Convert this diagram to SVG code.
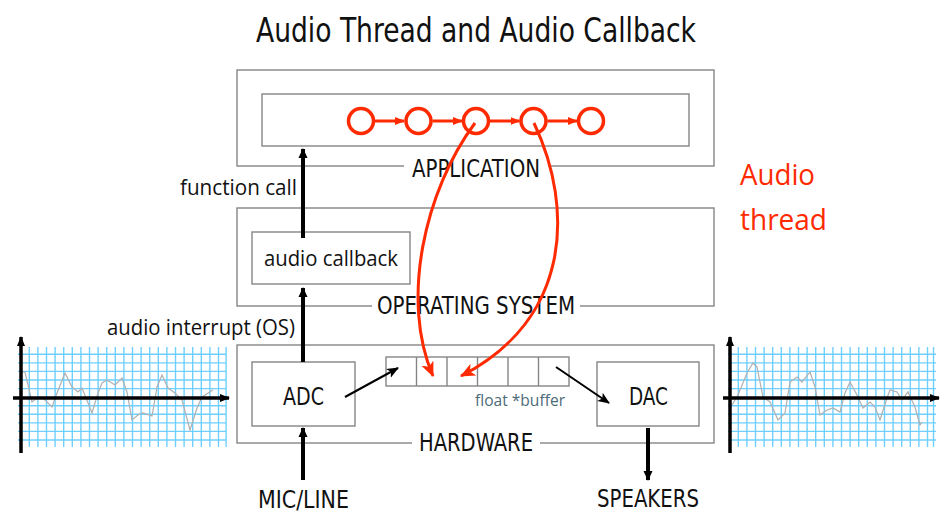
<svg xmlns="http://www.w3.org/2000/svg" width="946" height="516" viewBox="0 0 946 516">
<style>
.box{fill:none;stroke:#858585;stroke-width:1.4}
.lbl{font-family:"DejaVu Sans Condensed","DejaVu Sans",sans-serif;fill:#111;text-anchor:middle}
.txt{font-family:"Open Sans","Liberation Sans",sans-serif;fill:#111}
.grid line{stroke:#6fd0ff;stroke-width:1.4}
.axis{stroke:#000;stroke-width:3.5}
.wave{fill:none;stroke:#b0b0b0;stroke-width:1.2}
.thick{stroke:#000;stroke-width:4;fill:none}
.thin{stroke:#000;stroke-width:2;fill:none}
.red{stroke:#ff2a00;fill:none}
</style>
<defs>
<marker id="ah" markerUnits="userSpaceOnUse" markerWidth="10" markerHeight="10" refX="9" refY="5" orient="auto"><path d="M0,0.5 L10,5 L0,9.5 z" fill="#000"/></marker>
<marker id="ahs" markerUnits="userSpaceOnUse" markerWidth="12" markerHeight="12" refX="11" refY="6" orient="auto"><path d="M0,1 L12,6 L0,11 L3,6 z" fill="#000"/></marker>
<marker id="axh" markerUnits="userSpaceOnUse" markerWidth="10" markerHeight="10" refX="9" refY="5" orient="auto"><path d="M0,1 L10,5 L0,9 z" fill="#000"/></marker>
<marker id="rh" markerUnits="userSpaceOnUse" markerWidth="10" markerHeight="10" refX="9" refY="5" orient="auto"><path d="M0,1 L10,5 L0,9 z" fill="#ff2a00"/></marker>
<marker id="rhb" markerUnits="userSpaceOnUse" markerWidth="16" markerHeight="14" refX="14" refY="7" orient="auto"><path d="M0,0.5 L15,7 L0,13.5 L4,7 z" fill="#ff2a00"/></marker>
</defs>
<rect width="946" height="516" fill="#fff"/>

<text x="476" y="42" class="lbl" font-size="33" font-weight="300" textLength="440" lengthAdjust="spacingAndGlyphs">Audio Thread and Audio Callback</text>

<!-- left chart -->
<g id="chart-left">
<g class="grid">
<line x1="29.3" y1="347" x2="29.3" y2="447"/><line x1="37.9" y1="347" x2="37.9" y2="447"/><line x1="46.5" y1="347" x2="46.5" y2="447"/><line x1="55.1" y1="347" x2="55.1" y2="447"/><line x1="63.7" y1="347" x2="63.7" y2="447"/><line x1="72.3" y1="347" x2="72.3" y2="447"/><line x1="80.9" y1="347" x2="80.9" y2="447"/><line x1="89.5" y1="347" x2="89.5" y2="447"/><line x1="98.1" y1="347" x2="98.1" y2="447"/><line x1="106.7" y1="347" x2="106.7" y2="447"/><line x1="115.3" y1="347" x2="115.3" y2="447"/><line x1="123.9" y1="347" x2="123.9" y2="447"/><line x1="132.5" y1="347" x2="132.5" y2="447"/><line x1="141.1" y1="347" x2="141.1" y2="447"/><line x1="149.7" y1="347" x2="149.7" y2="447"/><line x1="158.3" y1="347" x2="158.3" y2="447"/><line x1="166.9" y1="347" x2="166.9" y2="447"/><line x1="175.5" y1="347" x2="175.5" y2="447"/><line x1="184.1" y1="347" x2="184.1" y2="447"/><line x1="192.7" y1="347" x2="192.7" y2="447"/><line x1="201.3" y1="347" x2="201.3" y2="447"/><line x1="209.9" y1="347" x2="209.9" y2="447"/><line x1="218.5" y1="347" x2="218.5" y2="447"/><line x1="226.1" y1="347" x2="226.1" y2="447"/>
<line x1="18" y1="354.3" x2="226" y2="354.3"/><line x1="18" y1="362.9" x2="226" y2="362.9"/><line x1="18" y1="371.4" x2="226" y2="371.4"/><line x1="18" y1="380" x2="226" y2="380"/><line x1="18" y1="388.6" x2="226" y2="388.6"/><line x1="18" y1="405.7" x2="226" y2="405.7"/><line x1="18" y1="414.3" x2="226" y2="414.3"/><line x1="18" y1="422.9" x2="226" y2="422.9"/><line x1="18" y1="431.4" x2="226" y2="431.4"/><line x1="18" y1="440" x2="226" y2="440"/>
</g>
<polyline class="wave" points="21,372 25,372 32,402 37,398 43,398 52,407 57,393 65,373 72,387 78,392 82,388 92,413 98,393 102,383 107,380 115,385 122,378 127,392 132,420 138,415 143,413 152,416 157,387 162,375 168,388 175,393 182,400 190,430 197,408 202,397 213,390"/>
<line class="axis" x1="21" y1="453" x2="21" y2="337" marker-end="url(#axh)"/>
<line class="axis" x1="13" y1="398" x2="229" y2="398" marker-end="url(#axh)"/>
</g>

<!-- right chart -->
<g id="chart-right">
<g class="grid">
<line x1="738.3" y1="347" x2="738.3" y2="447"/><line x1="746.9" y1="347" x2="746.9" y2="447"/><line x1="755.5" y1="347" x2="755.5" y2="447"/><line x1="764.1" y1="347" x2="764.1" y2="447"/><line x1="772.7" y1="347" x2="772.7" y2="447"/><line x1="781.3" y1="347" x2="781.3" y2="447"/><line x1="789.9" y1="347" x2="789.9" y2="447"/><line x1="798.5" y1="347" x2="798.5" y2="447"/><line x1="807.1" y1="347" x2="807.1" y2="447"/><line x1="815.7" y1="347" x2="815.7" y2="447"/><line x1="824.3" y1="347" x2="824.3" y2="447"/><line x1="832.9" y1="347" x2="832.9" y2="447"/><line x1="841.5" y1="347" x2="841.5" y2="447"/><line x1="850.1" y1="347" x2="850.1" y2="447"/><line x1="858.7" y1="347" x2="858.7" y2="447"/><line x1="867.3" y1="347" x2="867.3" y2="447"/><line x1="875.9" y1="347" x2="875.9" y2="447"/><line x1="884.5" y1="347" x2="884.5" y2="447"/><line x1="893.1" y1="347" x2="893.1" y2="447"/><line x1="901.7" y1="347" x2="901.7" y2="447"/><line x1="910.3" y1="347" x2="910.3" y2="447"/><line x1="918.9" y1="347" x2="918.9" y2="447"/><line x1="927.5" y1="347" x2="927.5" y2="447"/><line x1="933.5" y1="347" x2="933.5" y2="447"/>
<line x1="728" y1="354.3" x2="936" y2="354.3"/><line x1="728" y1="362.9" x2="936" y2="362.9"/><line x1="728" y1="371.4" x2="936" y2="371.4"/><line x1="728" y1="380" x2="936" y2="380"/><line x1="728" y1="388.6" x2="936" y2="388.6"/><line x1="728" y1="405.7" x2="936" y2="405.7"/><line x1="728" y1="414.3" x2="936" y2="414.3"/><line x1="728" y1="422.9" x2="936" y2="422.9"/><line x1="728" y1="431.4" x2="936" y2="431.4"/><line x1="728" y1="440" x2="936" y2="440"/>
</g>
<polyline class="wave" points="732,405 738,395 747,373 753,363 757,367 763,397 770,402 778,420 785,413 790,382 797,377 802,382 810,372 815,387 820,415 827,410 833,408 840,412 845,393 850,382 857,395 863,408 870,402 875,407 880,420 887,398 890,390 897,392 902,400 908,392 915,407 920,425 922,422"/>
<line class="axis" x1="730" y1="453" x2="730" y2="337" marker-end="url(#axh)"/>
<line class="axis" x1="723" y1="398" x2="939" y2="398" marker-end="url(#axh)"/>
</g>

<!-- layers -->
<g id="application">
<rect class="box" x="237" y="70" width="477" height="96"/>
<rect class="box" x="262" y="94" width="427" height="52"/>
<rect x="404" y="158" width="144" height="20" fill="#fff"/>
<text x="476" y="177" class="lbl" font-size="24" textLength="128" lengthAdjust="spacingAndGlyphs">APPLICATION</text>
</g>
<g id="operating-system">
<rect class="box" x="237" y="208" width="477" height="98"/>
<rect x="372" y="298" width="208" height="18" fill="#fff"/>
<text x="476" y="314" class="lbl" font-size="24" textLength="198" lengthAdjust="spacingAndGlyphs">OPERATING SYSTEM</text>
</g>
<g id="audio-callback">
<rect class="box" x="252" y="232" width="158" height="52"/>
<text x="264" y="266" class="txt" font-size="21" textLength="134" lengthAdjust="spacingAndGlyphs">audio callback</text>
</g>
<g id="hardware">
<rect class="box" x="237" y="345" width="477" height="98"/>
<rect x="412" y="435" width="128" height="18" fill="#fff"/>
<text x="476" y="451" class="lbl" font-size="24" textLength="114" lengthAdjust="spacingAndGlyphs">HARDWARE</text>
</g>
<g id="adc">
<rect class="box" x="252" y="362" width="103" height="64"/>
<text x="303.5" y="405" class="lbl" font-size="25" textLength="41" lengthAdjust="spacingAndGlyphs">ADC</text>
</g>
<g id="dac">
<rect class="box" x="597" y="362" width="102" height="64"/>
<text x="648.5" y="405" class="lbl" font-size="25" textLength="39" lengthAdjust="spacingAndGlyphs">DAC</text>
</g>
<g id="buffer">
<rect class="box" x="386" y="357" width="183" height="29"/>
<line class="box" x1="416.5" y1="357" x2="416.5" y2="386"/>
<line class="box" x1="447" y1="357" x2="447" y2="386"/>
<line class="box" x1="477.5" y1="357" x2="477.5" y2="386"/>
<line class="box" x1="508" y1="357" x2="508" y2="386"/>
<line class="box" x1="538.5" y1="357" x2="538.5" y2="386"/>
<text x="475" y="406" font-family="Open Sans, Liberation Sans, sans-serif" font-size="17" fill="#4d6b78" textLength="90" lengthAdjust="spacingAndGlyphs">float *buffer</text>
</g>
<g id="mic-line"><text x="303.5" y="508" class="lbl" font-size="24" textLength="91" lengthAdjust="spacingAndGlyphs">MIC/LINE</text></g>
<g id="speakers"><text x="648" y="507" class="lbl" font-size="24" textLength="102" lengthAdjust="spacingAndGlyphs">SPEAKERS</text></g>
<g id="audio-thread-label">
<text x="740" y="185" font-family="Open Sans, Liberation Sans, sans-serif" font-size="30" fill="#ff2a00" textLength="75" lengthAdjust="spacingAndGlyphs">Audio</text>
<text x="740" y="230" font-family="Open Sans, Liberation Sans, sans-serif" font-size="30" fill="#ff2a00" textLength="87" lengthAdjust="spacingAndGlyphs">thread</text>
</g>
<g id="nodes">
<circle class="red" cx="361" cy="121" r="12.5" stroke-width="3.5"/>
<circle class="red" cx="418.5" cy="121" r="12.5" stroke-width="3.5"/>
<circle class="red" cx="476" cy="121" r="12.5" stroke-width="3.5"/>
<circle class="red" cx="533.5" cy="121" r="12.5" stroke-width="3.5"/>
<circle class="red" cx="591" cy="121" r="12.5" stroke-width="3.5"/>
</g>
<text x="180" y="195" class="txt" font-size="21" textLength="117" lengthAdjust="spacingAndGlyphs">function call</text>
<text x="107" y="335" class="txt" font-size="21" textLength="188" lengthAdjust="spacingAndGlyphs">audio interrupt (OS)</text>

<g id="connectors">
<line class="thick" x1="303" y1="238" x2="303" y2="149" marker-end="url(#ah)"/>
<line class="thick" x1="303" y1="362" x2="303" y2="288" marker-end="url(#ah)"/>
<line class="thick" x1="303" y1="480" x2="303" y2="428" marker-end="url(#ah)"/>
<line class="thick" x1="648" y1="428" x2="648" y2="480" marker-end="url(#ah)"/>
<line class="thin" x1="345" y1="397" x2="398" y2="368" marker-end="url(#ahs)"/>
<line class="thin" x1="556" y1="367" x2="609" y2="403" marker-end="url(#ahs)"/>
<line class="red" stroke-width="3" x1="375" y1="121" x2="404" y2="121" marker-end="url(#rh)"/>
<line class="red" stroke-width="3" x1="432.5" y1="121" x2="462" y2="121" marker-end="url(#rh)"/>
<line class="red" stroke-width="3" x1="490" y1="121" x2="519.5" y2="121" marker-end="url(#rh)"/>
<line class="red" stroke-width="3" x1="547.5" y1="121" x2="577" y2="121" marker-end="url(#rh)"/>
<path class="red" stroke-width="3" d="M475,123 C425,190 400,300 433,376" marker-end="url(#rhb)"/>
<path class="red" stroke-width="3" d="M534,123 C575,210 570,320 461,376" marker-end="url(#rhb)"/>
</g>
</svg>
